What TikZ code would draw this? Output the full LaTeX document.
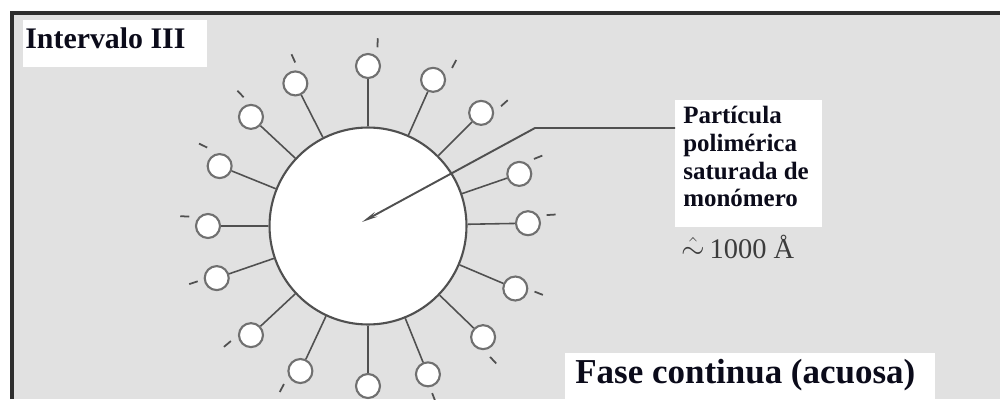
\documentclass[tikz,border=0pt]{standalone}
\usepackage{fontspec}
\setmainfont{Liberation Serif}
\usetikzlibrary{arrows.meta}

\definecolor{fondo}{HTML}{E1E1E1}
\definecolor{marco}{HTML}{2E2E2E}
\definecolor{borde}{HTML}{505050}
\definecolor{contorno}{HTML}{707070}
\definecolor{tinta}{HTML}{0B0B1A}
\definecolor{gris}{HTML}{3C3C3C}

\begin{document}
\begin{tikzpicture}[x=0.02cm, y=-0.02cm,
    caja/.style={fill=white, inner sep=0, anchor=north west},
    cabeza/.style={draw=contorno, fill=white, circle, line width=1.2pt, minimum size=0.48cm, inner sep=0},
    tallo/.style={draw=borde, line width=0.9pt},
    carga/.style={draw=borde, line width=1pt},
    texto/.style={inner sep=0, text=tinta, font=\bfseries}]
  \useasboundingbox (0,0) rectangle (1000,399);

  % Fondo y marco
  \fill[fondo] (12,13) rectangle (1000,399);
  \draw[marco, line width=2.2pt] (12,399) -- (12,13) -- (1000,13);

  % Particula
  \node[draw=borde, fill=white, circle, line width=1.2pt, minimum size=3.94cm, inner sep=0] (gota) at (368,226) {};

  % Tensoactivos: cabeza, cola y carga (angulo / angulo de la carga)
  \foreach \a/\c [count=\i] in {90/87,66/62,45/42,19/22,1/3.5,-23/-21.5,-44/-47,-68/-69,
      -90/-93,-115/-118,-137/-140,-161/-162,180/177,158/154,137/134,117/114} {
    \node[cabeza] (h\i) at ([shift={({-(\a)}:160)}]gota.center) {};
    \draw[tallo] (gota.\a) -- (h\i);
    \draw[carga] ([shift={({-(\c)}:179)}]gota.center) -- ([shift={({-(\c)}:188)}]gota.center);
  }

  % Rotulos
  \node[caja, minimum width=3.68cm, minimum height=0.94cm] (cajaint) at (23,20) {};
  \node[texto, anchor=base west, font=\bfseries\fontsize{17}{20}\selectfont] (intervalo) at (25,48) {Intervalo III};

  \node[caja, minimum width=2.94cm, minimum height=2.54cm] (cajapart) at (675,100) {};
  \node[texto, anchor=north west, align=left, font=\bfseries\fontsize{14.2}{15.8}\selectfont] (particula) at (683,106)
    {Partícula\\polimérica\\saturada de\\monómero};
  \node[inner sep=0, anchor=base west, text=gris, font=\fontsize{16.2}{19}\selectfont] (tamano) at (681,258) {$\hat{\sim}$\,1000 Å};

  \node[caja, minimum width=7.4cm, minimum height=0.96cm] (cajafase) at (565,353) {};
  \node[texto, anchor=base west, font=\bfseries\fontsize{19.9}{23}\selectfont] (fase) at (575,383) {Fase continua (acuosa)};

  % Flecha del rotulo
  \coordinate (inicio) at (675,128);
  \coordinate (codo) at (535,128);
  \coordinate (punta) at (362,222);
  \draw[draw=borde, line width=1.1pt, -{Stealth[length=9pt, width=3pt]}] (inicio) -- (codo) -- (punta);
\end{tikzpicture}
\end{document}
